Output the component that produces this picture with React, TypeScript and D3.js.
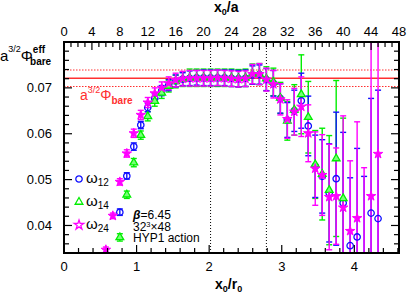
import * as d3 from "d3";

const WIDTH = 407;
const HEIGHT = 293;
const MARGIN = { top: 42, right: 8, bottom: 40, left: 64 };
const R0_OVER_A = 10.4;

// x0/a time slices
const x0a = [
  6, 7, 8, 9, 10, 11, 12, 13, 14, 15, 16, 17, 18, 19, 20, 21, 22, 23, 24, 25,
  26, 27, 28, 29, 30, 31, 32, 33, 34, 35, 36, 37, 38, 39, 40, 41, 42, 43, 44, 45,
];

const w12Val = [
  null, null, 0.0429, 0.0508, 0.0572, 0.0619, 0.0657, 0.0677, 0.0694, 0.0706,
  0.0715, 0.0719, 0.0721, 0.0722, 0.0722, 0.0722, 0.0722, 0.0722, 0.0721, 0.072,
  0.0721, 0.0728, 0.0729, 0.0718, 0.071, 0.0677, 0.063, 0.065, 0.0672, 0.0617,
  0.0529, 0.0507, 0.0471, 0.0502, 0.0449, 0.0356, 0.0375, 0.029, 0.0427, 0.0415,
];
const w12Err = [
  0, 0, 0.0007, 0.0007, 0.0008, 0.0008, 0.0009, 0.001, 0.0011, 0.0012,
  0.0013, 0.0014, 0.0016, 0.0016, 0.0017, 0.0017, 0.0017, 0.0017, 0.0018, 0.0018,
  0.0018, 0.002, 0.0021, 0.0024, 0.0028, 0.0032, 0.0038, 0.0045, 0.006, 0.0065,
  0.0068, 0.008, 0.0107, 0.0145, 0.0154, 0.0148, 0.0193, 0.0217, 0.025, 0.028,
];

const w14Val = [
  null, null, 0.0374, 0.0467, 0.0537, 0.0597, 0.0638, 0.0671, 0.0689, 0.0704,
  0.0714, 0.0719, 0.0722, 0.0722, 0.0722, 0.0722, 0.0722, 0.0722, 0.0722, 0.0721,
  0.0722, 0.073, 0.073, 0.072, 0.0713, 0.0678, 0.0628, 0.0652, 0.0686, 0.0636,
  0.0533, 0.0512, 0.0477, 0.0546, 0.0459, null, null, null, null, null,
];
const w14Err = [
  0, 0, 0.0008, 0.0008, 0.0009, 0.0009, 0.001, 0.0011, 0.0012, 0.0013,
  0.0014, 0.0016, 0.0019, 0.0019, 0.0019, 0.0019, 0.0019, 0.0019, 0.0019, 0.0019,
  0.0019, 0.0022, 0.0023, 0.0026, 0.003, 0.0034, 0.0042, 0.0055, 0.0086, 0.0078,
  0.0074, 0.01, 0.0119, 0.017, 0.0175, 0, 0, 0, 0, 0,
];

const w24Val = [
  0.0347, 0.0421, 0.0495, 0.0557, 0.0601, 0.0641, 0.0668, 0.0688, 0.07, 0.071,
  0.0717, 0.072, 0.0721, 0.0721, 0.0721, 0.0721, 0.0722, 0.0721, 0.072, 0.0719,
  0.072, 0.073, 0.073, 0.0718, 0.0708, 0.0675, 0.0632, 0.0648, 0.0659, 0.0601,
  0.0524, 0.051, 0.0462, 0.0464, 0.0439, 0.0388, 0.0416, 0.031, 0.0464, 0.0556,
];
const w24Err = [
  0.0006, 0.0006, 0.0007, 0.0008, 0.0009, 0.001, 0.0011, 0.0012, 0.0013, 0.0014,
  0.0015, 0.0016, 0.0017, 0.0017, 0.0017, 0.0017, 0.0017, 0.0017, 0.0017, 0.0017,
  0.0017, 0.0021, 0.0023, 0.0025, 0.003, 0.0034, 0.0042, 0.0051, 0.0065, 0.0062,
  0.008, 0.0088, 0.0115, 0.0105, 0.02, 0.0153, 0.021, 0.0216, 0.045, 0.045,
];

// fit result a^{3/2} Phi_bare
const fitVal = 0.0721;
const fitErr = 0.0018;
const plateauMarks = [21, 29];

const topTicks = [0, 4, 8, 12, 16, 20, 24, 28, 32, 36, 40, 44, 48];
const bottomTicks = [0, 1, 2, 3, 4];
const yTicks = [0.04, 0.05, 0.06, 0.07];

const BLUE = "#1010ff";
const GREEN = "#00ee00";
const PINK = "#ff00ff";
const RED = "#ff3030";
const FONT = "Liberation Sans, Arial, sans-serif";

const boundsWidth = WIDTH - MARGIN.left - MARGIN.right;
const boundsHeight = HEIGHT - MARGIN.top - MARGIN.bottom;

const App = () => {
  const xScale = d3.scaleLinear().domain([0, 48]).range([0, boundsWidth]);
  const xr0Scale = d3
    .scaleLinear()
    .domain([0, 48 / R0_OVER_A])
    .range([0, boundsWidth]);
  const yScale = d3.scaleLinear().domain([0.034, 0.08]).range([boundsHeight, 0]);

  const circle = d3.symbol().type(d3.symbolCircle).size(32)()!;
  const triangle = d3.symbol().type(d3.symbolTriangle).size(26)()!;
  const star = d3.symbol().type(d3.symbolStar).size(28)()!;

  const series = [
    { key: "w12", vals: w12Val, errs: w12Err, color: BLUE },
    { key: "w14", vals: w14Val, errs: w14Err, color: GREEN },
    { key: "w24", vals: w24Val, errs: w24Err, color: PINK },
  ];

  const errorBars = [series[1], series[0], series[2]].map((s) => (
    <g key={s.key} stroke={s.color} strokeWidth={1.4}>
      {x0a.map((t, i) => {
        const v = s.vals[i];
        if (v === null) return null;
        const e = s.errs[i];
        const x = xScale(t);
        const y1 = yScale(v - e);
        const y2 = yScale(v + e);
        return (
          <g key={i}>
            <line x1={x} x2={x} y1={y1} y2={y2} />
            <line x1={x - 3} x2={x + 3} y1={y1} y2={y1} />
            <line x1={x - 3} x2={x + 3} y1={y2} y2={y2} />
          </g>
        );
      })}
    </g>
  ));

  const markers = series.map((s) => (
    <g key={s.key}>
      {x0a.map((t, i) => {
        const v = s.vals[i];
        if (v === null) return null;
        const tr = `translate(${xScale(t)},${yScale(v)})`;
        if (s.key === "w12")
          return <path key={i} d={circle} transform={tr} fill="none" stroke={BLUE} strokeWidth={1.3} />;
        if (s.key === "w14")
          return <path key={i} d={triangle} transform={tr} fill="#7f7" stroke={GREEN} strokeWidth={1.3} />;
        return <path key={i} d={star} transform={tr} fill={PINK} stroke={PINK} strokeWidth={1} />;
      })}
    </g>
  ));

  // minor ticks
  const topMinor = d3.range(0, 49, 1);
  const bottomMinor = d3.range(0, 4.61, 0.2);
  const yMinor = d3.range(0.034, 0.0801, 0.002);

  return (
    <svg
      width={WIDTH}
      height={HEIGHT}
      style={{ position: "absolute", left: 0, top: 0, background: "#fff" }}
      fontFamily={FONT}
    >
      <defs>
        <clipPath id="plot-clip">
          <rect x={0} y={0} width={boundsWidth} height={boundsHeight} />
        </clipPath>
      </defs>
      <g transform={`translate(${MARGIN.left},${MARGIN.top})`}>
        {/* plateau region marks */}
        {plateauMarks.map((t) => (
          <line
            key={t}
            x1={xScale(t)}
            x2={xScale(t)}
            y1={0}
            y2={boundsHeight}
            stroke="#000"
            strokeWidth={1}
            strokeDasharray="1,2"
          />
        ))}
        {/* fit band */}
        <line x1={0} x2={boundsWidth} y1={yScale(fitVal)} y2={yScale(fitVal)} stroke={RED} strokeWidth={1.6} />
        {[fitVal + fitErr, fitVal - fitErr].map((v, i) => (
          <line
            key={i}
            x1={0}
            x2={boundsWidth}
            y1={yScale(v)}
            y2={yScale(v)}
            stroke={RED}
            strokeWidth={1.2}
            strokeDasharray="1.5,1.5"
          />
        ))}

        <g clipPath="url(#plot-clip)">
          {errorBars}
          {markers}
        </g>

        {/* ticks */}
        {topMinor.map((t) => (
          <line key={"tt" + t} x1={xScale(t)} x2={xScale(t)} y1={0} y2={t % 4 === 0 ? 8 : 5} stroke="#000" strokeWidth={1.2} />
        ))}
        {bottomMinor.map((t, i) => (
          <line
            key={"bt" + i}
            x1={xr0Scale(t)}
            x2={xr0Scale(t)}
            y1={boundsHeight}
            y2={boundsHeight - (i % 5 === 0 ? 8 : 5)}
            stroke="#000"
            strokeWidth={1.2}
          />
        ))}
        {yMinor.map((v, i) => {
          const major = Math.abs(Math.round(v * 100) - v * 100) < 1e-6;
          const len = major ? 8 : 5;
          return (
            <g key={"yt" + i}>
              <line x1={0} x2={len} y1={yScale(v)} y2={yScale(v)} stroke="#000" strokeWidth={1.2} />
              <line x1={boundsWidth} x2={boundsWidth - len} y1={yScale(v)} y2={yScale(v)} stroke="#000" strokeWidth={1.2} />
            </g>
          );
        })}

        <rect x={0} y={0} width={boundsWidth} height={boundsHeight} fill="none" stroke="#000" strokeWidth={2} />

        {/* tick labels */}
        {topTicks.map((t) => (
          <text key={"tl" + t} x={xScale(t)} y={-6} textAnchor="middle" fontSize={13}>
            {t}
          </text>
        ))}
        {bottomTicks.map((t) => (
          <text key={"bl" + t} x={xr0Scale(t)} y={boundsHeight + 18} textAnchor="middle" fontSize={13}>
            {t}
          </text>
        ))}
        {yTicks.map((v) => (
          <text key={"yl" + v} x={-12} y={yScale(v) + 4.5} textAnchor="end" fontSize={13}>
            {d3.format(".2f")(v)}
          </text>
        ))}

        {/* axis titles */}
        <text x={150} y={-30} fontSize={14} fontWeight="bold">
          x<tspan fontSize={9} dy={3}>0</tspan>
          <tspan dy={-3}>/a</tspan>
        </text>
        <text x={151} y={boundsHeight + 36} fontSize={14} fontWeight="bold">
          x<tspan fontSize={9} dy={3}>0</tspan>
          <tspan dy={-3}>/r</tspan>
          <tspan fontSize={9} dy={3}>0</tspan>
        </text>
      </g>

      {/* y label */}
      <text x={0} y={61} fontSize={15}>
        a<tspan fontSize={9} dy={-9}>3/2</tspan>
        <tspan dy={9}>Φ</tspan>
        <tspan fontSize={10} fontWeight="bold" dx={0} dy={-8}>eff</tspan>
        <tspan fontSize={10} fontWeight="bold" dx={-15} dy={12}>bare</tspan>
      </text>

      {/* fit label */}
      <text x={80} y={100} fontSize={14} fill={RED}>
        a<tspan fontSize={9} dy={-7}>3/2</tspan>
        <tspan dy={7}>Φ</tspan>
        <tspan fontSize={10} fontWeight="bold" dy={4}>bare</tspan>
      </text>

      {/* legend */}
      {[
        { d: circle, fill: "none", stroke: BLUE, sub: "12", y: 179 },
        { d: triangle, fill: "none", stroke: GREEN, sub: "14", y: 202 },
        { d: star, fill: "none", stroke: PINK, sub: "24", y: 225 },
      ].map((l) => (
        <g key={l.sub}>
          <path d={l.d} transform={`translate(79,${l.y})`} fill={l.fill} stroke={l.stroke} strokeWidth={1.3} />
          <text x={86} y={l.y + 4} fontSize={15}>
            ω<tspan fontSize={10} dy={3}>{l.sub}</tspan>
          </text>
        </g>
      ))}

      <text x={133} y={219} fontSize={12}>
        <tspan fontStyle="italic" fontWeight="bold">β</tspan>=6.45
      </text>
      <text x={133} y={230.5} fontSize={12}>
        32<tspan fontSize={7.5} dy={-4}>3</tspan>
        <tspan dy={4}>×48</tspan>
      </text>
      <text x={133} y={242} fontSize={12}>
        HYP1 action
      </text>
    </svg>
  );
};

export default App;
